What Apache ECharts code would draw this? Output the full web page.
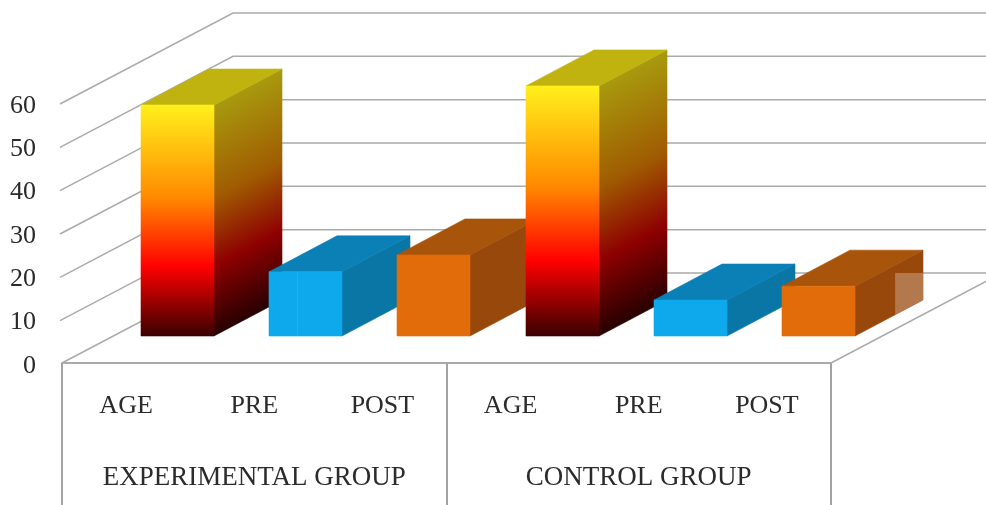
<!DOCTYPE html>
<html>
<head>
<meta charset="utf-8">
<style>html,body{margin:0;padding:0;background:#fff}#chart{width:986px;height:505px}</style>
<script src="https://cdn.jsdelivr.net/npm/echarts@6/dist/echarts.min.js"></script>
</head>
<body>
<div id="chart"></div>
<script>
// Measures and groups
const measures = ['AGE', 'PRE', 'POST', 'AGE', 'PRE', 'POST'];
const groups = ['EXPERIMENTAL GROUP', 'CONTROL GROUP'];
const values = [53.3, 14.8, 18.7, 57.7, 8.3, 11.5];
const yTicks = [0, 10, 20, 30, 40, 50, 60];

// Face colours for each measure
const faces = {
  AGE: {
    top: '#c0b30f',
    stops: ['#fff01c', '#ff8a00', '#ff0000', '#3a0000'],
    sideStops: ['#a89a0e', '#a05c02', '#8e0000', '#280000']
  },
  PRE: { top: '#0a80b6', front: '#0ea9ec', side: '#0a76a6' },
  POST: { top: '#a8540a', front: '#e36c0a', side: '#97480a' }
};
const stopAt = [0, 0.4, 0.7, 1];

// Oblique projection: how far the back of the floor sits from its front edge
const floorDepth = { dx: 171, dy: -90 };
const barDepth = { dx: 68, dy: -36 };
const barInset = { dx: 51.5, dy: -27 };
const barWidthRatio = 0.57;
const rightEdge = 986;
const lineColor = '#ababab';

function gradient(x, y, x2, y2, colors) {
  return {
    type: 'linear', global: true, x, y, x2, y2,
    colorStops: colors.map((color, i) => ({ offset: stopAt[i], color }))
  };
}

// A filled face; the thin matching stroke closes seams between neighbours
function poly(points, fill) {
  return { type: 'polygon', shape: { points }, style: { fill, stroke: fill, lineWidth: 0.6 } };
}

// Side wall and back wall rules for one tick value
function renderWallLine(params, api) {
  const v = api.value(0);
  const sys = params.coordSys;
  const y = api.coord([0, v])[1];
  const left = sys.x;
  const right = sys.x + sys.width;
  const style = { stroke: lineColor, lineWidth: 1.5, fill: null };
  const children = [{
    type: 'polyline',
    shape: { points: [
      [left - 2, y + 1],
      [left + floorDepth.dx, y + floorDepth.dy],
      [rightEdge, y + floorDepth.dy]
    ] },
    style
  }];
  if (v === 0) {
    children[0].shape.points[0] = [left, y];
    children.push({
      type: 'line',
      shape: {
        x1: right, y1: y,
        x2: right + floorDepth.dx, y2: y + floorDepth.dy
      },
      style
    });
  }
  return { type: 'group', children };
}

// One oblique box: front, top and side faces
function renderBar(params, api) {
  const i = api.value(0);
  const v = api.value(1);
  const band = api.size([1, 0])[0];
  const w = Math.round(band * barWidthRatio);
  const base = api.coord([i, 0]);
  const head = api.coord([i, v]);
  const x0 = Math.round(base[0] - w / 2 + barInset.dx);
  const x1 = x0 + w;
  const yb = base[1] + barInset.dy;
  const yt = head[1] + barInset.dy;
  const dx = barDepth.dx;
  const dy = barDepth.dy;
  const face = faces[measures[i]];

  let frontFill = face.front;
  let sideFill = face.side;
  if (face.stops) {
    frontFill = gradient(x0, yt, x0, yb, face.stops);
    // Colour bands on the side run parallel to its slanted edges
    const h = yb - yt;
    const len = Math.hypot(dx, dy);
    const nx = -dy / len;
    const ny = dx / len;
    const proj = h * ny;
    sideFill = gradient(x1, yt, x1 + proj * nx, yt + proj * ny, face.sideStops);
  }

  const children = [
    poly([[x1, yb], [x1, yt], [x1 + dx, yt + dy], [x1 + dx, yb + dy]], sideFill),
    poly([[x0, yt], [x1, yt], [x1 + dx, yt + dy], [x0 + dx, yt + dy]], face.top),
    poly([[x0, yb], [x1, yb], [x1, yt], [x0, yt]], frontFill)
  ];

  // Faint seam on the first PRE box
  if (i === 1) {
    children.push({
      type: 'line',
      shape: { x1: x0 + w * 0.39, y1: yt, x2: x0 + w * 0.39, y2: yb },
      style: { stroke: '#24b0ee', lineWidth: 1 }
    });
  }
  // Pale patch on the rear of the last box's side, below the back floor line
  if (i === measures.length - 1) {
    const floorY = base[1] + floorDepth.dy;
    const from = 0.59;
    children.push({
      type: 'polygon',
      shape: { points: [
        [x1 + dx * from, floorY],
        [x1 + dx, floorY],
        [x1 + dx, yb + dy],
        [x1 + dx * from, yb + dy * from]
      ] },
      style: { fill: 'rgba(255,255,255,0.27)' }
    });
  }
  return { type: 'group', children };
}

const textStyle = { fontFamily: 'Liberation Serif', fontSize: 26, color: '#2b2b2b' };

const chart = echarts.init(document.getElementById('chart'), null, { renderer: 'canvas' });
chart.setOption({
  animation: false,
  backgroundColor: '#fff',
  grid: { left: 62, top: 103, width: 769, height: 260, containLabel: false, outerBoundsMode: 'none' },
  xAxis: [
    {
      type: 'category',
      data: measures,
      position: 'bottom',
      axisLine: { show: true, lineStyle: { color: lineColor, width: 2 } },
      axisTick: { show: false },
      splitLine: { show: false },
      axisLabel: { interval: 0, margin: 30, ...textStyle }
    },
    {
      type: 'category',
      data: groups,
      position: 'bottom',
      axisLine: { show: false },
      axisTick: { show: true, length: 142, lineStyle: { color: '#a3a3a3', width: 2 } },
      splitLine: { show: false },
      axisLabel: { interval: 0, margin: 101, ...textStyle, fontSize: 27 }
    }
  ],
  yAxis: {
    type: 'value',
    min: 0,
    max: 60,
    interval: 10,
    axisLine: { show: false },
    axisTick: { show: false },
    splitLine: { show: false },
    axisLabel: {
      margin: 26,
      ...textStyle,
      formatter: '{tick|{value}}',
      rich: { tick: { ...textStyle, padding: [6, 0, 0, 0] } }
    }
  },
  series: [
    {
      type: 'custom',
      coordinateSystem: 'cartesian2d',
      renderItem: renderWallLine,
      encode: { y: 0 },
      data: yTicks.map(v => [v]),
      silent: true,
      z: 1
    },
    {
      type: 'custom',
      coordinateSystem: 'cartesian2d',
      renderItem: renderBar,
      encode: { x: 0, y: 1 },
      data: values.map((v, i) => [i, v]),
      z: 2
    }
  ]
});
</script>
</body>
</html>
